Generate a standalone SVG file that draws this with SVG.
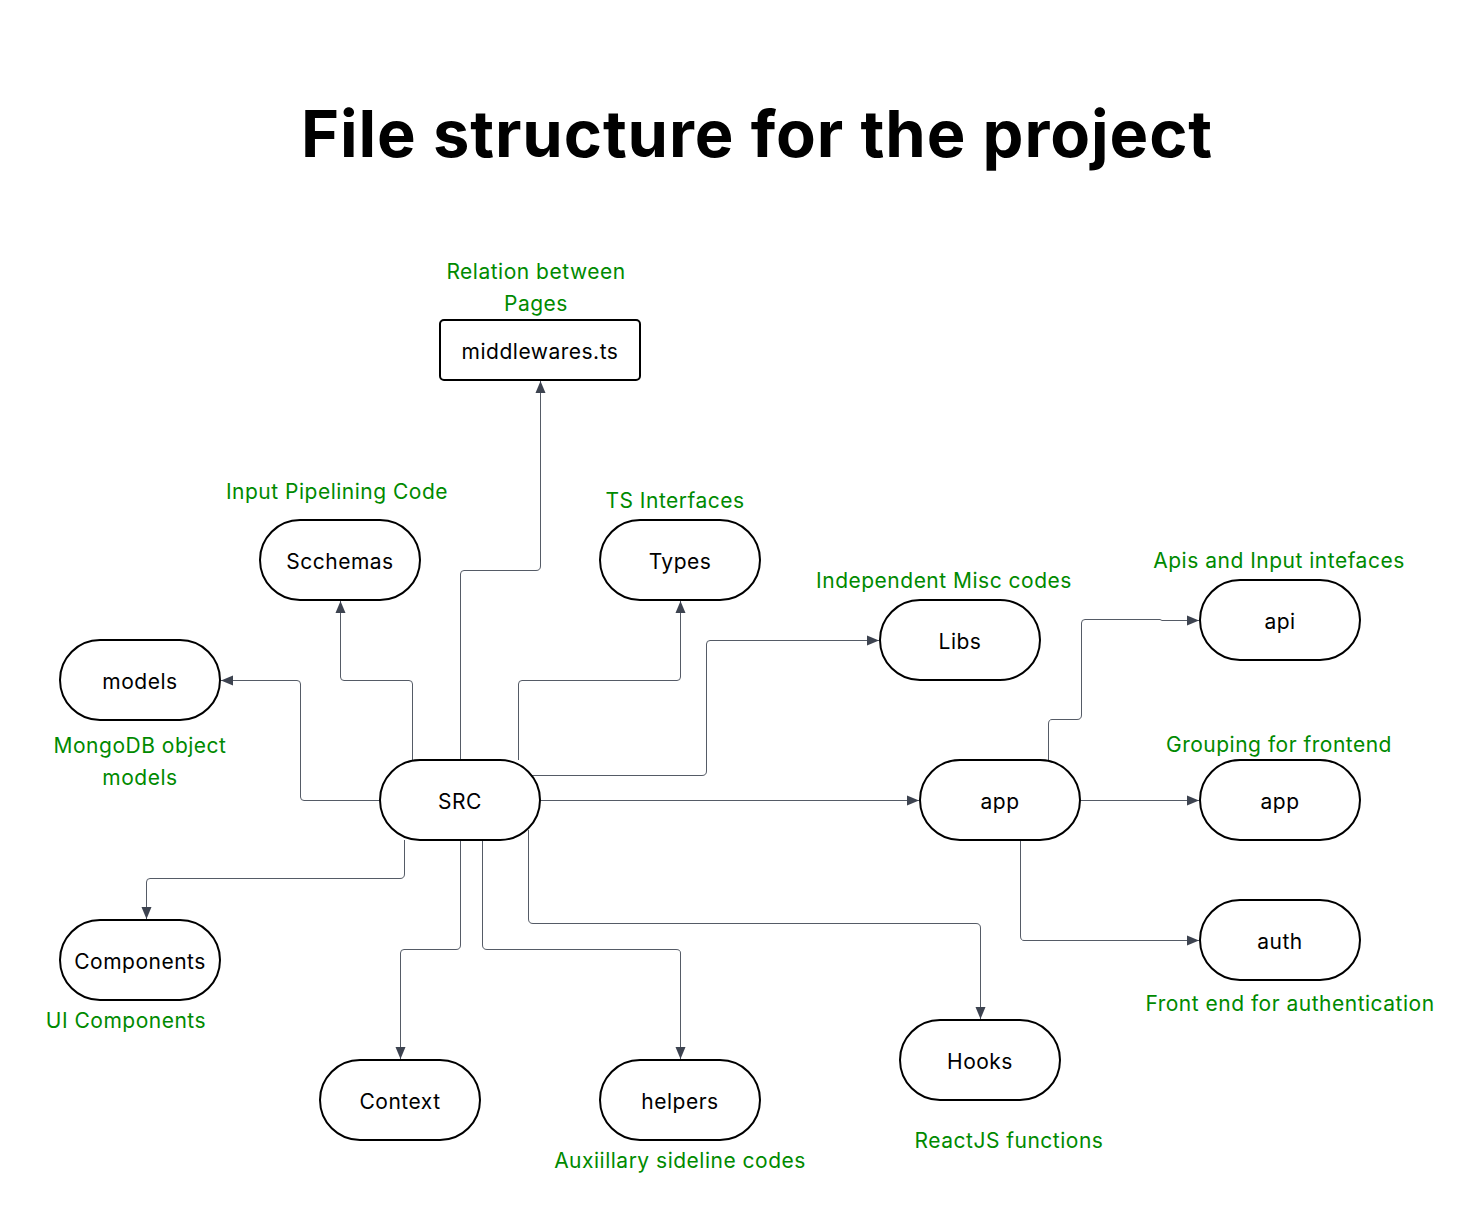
<svg xmlns="http://www.w3.org/2000/svg" width="1481" height="1217" viewBox="0 0 1481 1217">
<defs>
<style>
.n{fill:#fff;stroke:#000;stroke-width:2}
.t{font-family:Inter,"Liberation Sans",sans-serif;font-size:21px;letter-spacing:0.5px;fill:#000;text-anchor:middle;dominant-baseline:central}
.g{font-family:Inter,"Liberation Sans",sans-serif;font-size:21px;letter-spacing:0.5px;fill:#008a00;text-anchor:middle;dominant-baseline:central}
.c{fill:none;stroke:#555b66;stroke-width:1}
</style>
<marker id="a" viewBox="0 0 12 12" refX="12" refY="6" markerWidth="12" markerHeight="12" markerUnits="userSpaceOnUse" orient="auto">
<path d="M0 1 L12 6 L0 11 Z" fill="#3d4350"/>
</marker>
</defs>
<rect width="1481" height="1217" fill="#fff"/>
<text x="757" y="133" font-family="Inter,'Liberation Sans',sans-serif" font-size="65" font-weight="bold" letter-spacing="0.9" text-anchor="middle" dominant-baseline="central" fill="#000">File structure for the project</text>

<g id="connectors">
<path class="c" marker-end="url(#a)" d="M460.5 760 V574 Q460.5 570.5 464 570.5 H536 Q540.5 570.5 540.5 566 V381"/>
<path class="c" marker-end="url(#a)" d="M412.5 760 V684 Q412.5 680.5 409 680.5 H344 Q340.5 680.5 340.5 677 V601"/>
<path class="c" marker-end="url(#a)" d="M518.5 760 V684 Q518.5 680.5 522 680.5 H677 Q680.5 680.5 680.5 677 V601"/>
<path class="c" marker-end="url(#a)" d="M530 775.5 H702 Q706.5 775.5 706.5 771 V644 Q706.5 640.5 710 640.5 H879"/>
<path class="c" marker-end="url(#a)" d="M380 800.5 H304 Q300.5 800.5 300.5 797 V684 Q300.5 680.5 297 680.5 H221"/>
<path class="c" marker-end="url(#a)" d="M540 800.5 H919"/>
<path class="c" marker-end="url(#a)" d="M1048.5 760 V724 Q1048.5 719.5 1052 719.5 H1077 Q1081.5 719.5 1081.5 715 V623 Q1081.5 619.5 1085 619.5 H1160 L1162 620.5 H1199"/>
<path class="c" marker-end="url(#a)" d="M1080 800.5 H1199"/>
<path class="c" marker-end="url(#a)" d="M1020.5 840 V936 Q1020.5 940.5 1024 940.5 H1199"/>
<path class="c" marker-end="url(#a)" d="M404.5 840 V874 Q404.5 878.5 400 878.5 H150 Q146.5 878.5 146.5 882 V919"/>
<path class="c" marker-end="url(#a)" d="M460.5 840 V945 Q460.5 949.5 456 949.5 H404 Q400.5 949.5 400.5 953 V1059"/>
<path class="c" marker-end="url(#a)" d="M482.5 840 V945 Q482.5 949.5 487 949.5 H676 Q680.5 949.5 680.5 953 V1059"/>
<path class="c" marker-end="url(#a)" d="M528.5 830 V919 Q528.5 923.5 533 923.5 H976 Q980.5 923.5 980.5 928 V1019"/>
</g>

<g id="title-labels">
<text class="g" x="536" y="271">Relation between</text>
<text class="g" x="536" y="303">Pages</text>
<text class="g" x="337" y="491">Input Pipelining Code</text>
<text class="g" x="675" y="500">TS Interfaces</text>
<text class="g" x="944" y="580">Independent Misc codes</text>
<text class="g" x="1279" y="560">Apis and Input intefaces</text>
<text class="g" x="140" y="745">MongoDB object</text>
<text class="g" x="140" y="777">models</text>
<text class="g" x="1279" y="744">Grouping for frontend</text>
<text class="g" x="1290" y="1003">Front end for authentication</text>
<text class="g" x="126" y="1020">UI Components</text>
<text class="g" x="1009" y="1140">ReactJS functions</text>
<text class="g" x="680" y="1160">Auxiillary sideline codes</text>
</g>

<g id="middlewares"><rect class="n" x="440" y="320" width="200" height="60" rx="4"/><text class="t" x="540" y="351">middlewares.ts</text></g>
<g id="scchemas"><rect class="n" x="260" y="520" width="160" height="80" rx="40"/><text class="t" x="340" y="561">Scchemas</text></g>
<g id="types"><rect class="n" x="600" y="520" width="160" height="80" rx="40"/><text class="t" x="680" y="561">Types</text></g>
<g id="libs"><rect class="n" x="880" y="600" width="160" height="80" rx="40"/><text class="t" x="960" y="641">Libs</text></g>
<g id="api"><rect class="n" x="1200" y="580" width="160" height="80" rx="40"/><text class="t" x="1280" y="621">api</text></g>
<g id="models"><rect class="n" x="60" y="640" width="160" height="80" rx="40"/><text class="t" x="140" y="681">models</text></g>
<g id="src"><rect class="n" x="380" y="760" width="160" height="80" rx="40"/><text class="t" x="460" y="801">SRC</text></g>
<g id="app-mid"><rect class="n" x="920" y="760" width="160" height="80" rx="40"/><text class="t" x="1000" y="801">app</text></g>
<g id="app-right"><rect class="n" x="1200" y="760" width="160" height="80" rx="40"/><text class="t" x="1280" y="801">app</text></g>
<g id="auth"><rect class="n" x="1200" y="900" width="160" height="80" rx="40"/><text class="t" x="1280" y="941">auth</text></g>
<g id="components"><rect class="n" x="60" y="920" width="160" height="80" rx="40"/><text class="t" x="140" y="961">Components</text></g>
<g id="context"><rect class="n" x="320" y="1060" width="160" height="80" rx="40"/><text class="t" x="400" y="1101">Context</text></g>
<g id="helpers"><rect class="n" x="600" y="1060" width="160" height="80" rx="40"/><text class="t" x="680" y="1101">helpers</text></g>
<g id="hooks"><rect class="n" x="900" y="1020" width="160" height="80" rx="40"/><text class="t" x="980" y="1061">Hooks</text></g>
</svg>
